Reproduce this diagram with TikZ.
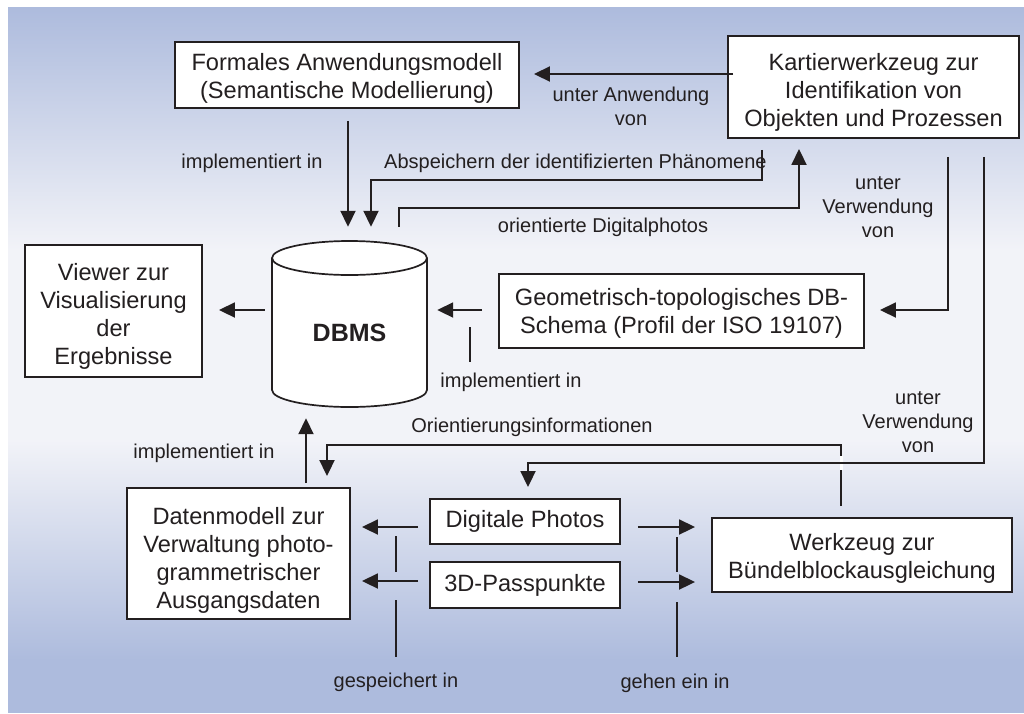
\documentclass[tikz,border=0pt]{standalone}
\usepackage{fontspec}
\setmainfont{Liberation Sans}
\usetikzlibrary{arrows.meta}
\definecolor{bgblue}{HTML}{ADBBDD}
\definecolor{bgpale}{HTML}{F2F3F8}
\definecolor{ink}{HTML}{231F20}
% invisible strut that lowers a multi-line box text
\newcommand\padtop[1]{\rule{0pt}{#1}}

\begin{document}
\begin{tikzpicture}[x=1pt,y=-1pt,
  box/.style={draw=ink, line width=1.9pt, fill=white, align=center, inner sep=0pt,
    text=ink, font=\fontsize{23.6}{28}\selectfont},
  lbl/.style={align=center, inner sep=0pt, text=ink, font=\fontsize{20}{24}\selectfont},
  conn/.style={draw=ink, line width=1.9pt},
  arr/.style={conn, -{Triangle[length=16pt,width=15pt]}},
  tick/.style={draw=ink, line width=1.3pt}]

% page and shaded backdrop
\useasboundingbox (0,0) rectangle (1024,713);
\fill[white] (0,0) rectangle (1024,713);
\shade[top color=bgblue, bottom color=bgpale] (8,7) rectangle (1024,250);
\fill[bgpale] (8,249.5) rectangle (1024,440.5);
\shade[top color=bgpale, bottom color=bgblue] (8,440) rectangle (1024,660);
\fill[bgblue] (8,659.5) rectangle (1024,713);

% boxes
\node[box, minimum width=344pt, minimum height=66pt] (formales) at (347,75)
  {\padtop{23.3pt}Formales Anwendungsmodell\\(Semantische Modellierung)};
\node[box, minimum width=291pt, minimum height=102pt] (kartier) at (873.5,87)
  {\padtop{27.3pt}Kartierwerkzeug zur\\Identifikation von\\Objekten und Prozessen};
\node[box, minimum width=177pt, minimum height=132pt] (viewer) at (113.5,311)
  {\padtop{27.3pt}Viewer zur\\Visualisierung\\der\\Ergebnisse};
\node[box, minimum width=365pt, minimum height=74pt] (geom) at (681.5,311)
  {\padtop{22.3pt}Geometrisch-topologisches DB-\\Schema (Profil der ISO 19107)};
\node[box, minimum width=223pt, minimum height=131pt] (daten) at (238.5,553.5)
  {\padtop{31pt}Datenmodell zur\\Verwaltung photo-\\grammetrischer\\Ausgangsdaten};
\node[box, minimum width=190pt, minimum height=45pt] (digital) at (525,521.5) {Digitale Photos};
\node[box, minimum width=190pt, minimum height=46pt] (pass) at (525,585) {3D-Passpunkte};
\node[box, minimum width=300pt, minimum height=74pt] (werkzeug) at (862,555)
  {\padtop{23.3pt}Werkzeug zur\\Bündelblockausgleichung};

% database cylinder
\fill[white] (272,258) -- (272,390) arc[start angle=180,end angle=360,x radius=77.5pt,y radius=17pt]
  -- (427,258) -- cycle;
\filldraw[fill=white, draw=ink, line width=1.7pt] (349.5,258) ellipse [x radius=77.5pt, y radius=17pt];
\draw[ink, line width=1.7pt] (272,258) -- (272,390)
  arc[start angle=180,end angle=360,x radius=77.5pt,y radius=17pt] -- (427,258);
\node[inner sep=0pt, minimum width=155pt, minimum height=166pt, text=ink,
  text height=52pt, text depth=18pt,
  font=\fontsize{25}{30}\selectfont\bfseries] (dbms) at (349.5,324) {DBMS};

% connectors
\draw[arr, shorten <=-6pt, shorten >=14pt] (kartier.west |- 0,74) -- (formales.east |- 0,74);
\draw[arr, shorten <=12pt, shorten >=14pt] (formales.south -| 348,0) -- (dbms.north -| 348,0);
\draw[arr, shorten <=11pt, shorten >=14pt] (kartier.south -| 762,0) -- (762,180) -- (371,180)
  -- (dbms.north -| 371,0);
\draw[arr, shorten <=14pt, shorten >=10pt] (dbms.north -| 399,0) -- (399,208) -- (799,208)
  -- (kartier.south -| 799,0);
\draw[arr, shorten <=18pt, shorten >=15pt] (kartier.south -| 948,0) -- (948,310) -- (geom.east |- 0,310);
\draw[arr, shorten <=7pt, shorten >=16pt] (dbms.west |- 0,310) -- (viewer.east |- 0,310);
\draw[arr, shorten <=16pt, shorten >=10pt] (geom.west |- 0,310) -- (dbms.east |- 0,310);
\draw[tick] (470,327) -- (470,362);
\draw[arr, shorten <=4pt, shorten >=11pt] (daten.north -| 306,0) -- (dbms.south -| 306,0);
\draw[arr, shorten <=11pt, shorten >=11pt] (werkzeug.north -| 841,0) -- (841,445) -- (327,445)
  -- (daten.north -| 327,0);
% gap where the two lines cross
\fill[white] (839.5,456) rectangle (842.5,470);
\draw[arr, shorten <=18pt, shorten >=11pt] (kartier.south -| 984,0) -- (984,463) -- (528,463)
  -- (digital.north -| 528,0);

\draw[arr, shorten <=11pt, shorten >=11pt] (digital.west |- 0,527) -- (daten.east |- 0,527);
\draw[arr, shorten <=11pt, shorten >=11pt] (pass.west |- 0,581) -- (daten.east |- 0,581);
\draw[tick] (396,536) -- (396,572);
\draw[tick] (396,600) -- (396,657);
\draw[arr, shorten <=17pt, shorten >=16pt] (digital.east |- 0,527) -- (werkzeug.west |- 0,527);
\draw[arr, shorten <=17pt, shorten >=16pt] (pass.east |- 0,582) -- (werkzeug.west |- 0,582);
\draw[tick] (677,537) -- (677,572);
\draw[tick] (677,602) -- (677,657);

% connector labels
\node[lbl] (l1) at (631,106) {unter Anwendung\\von};
\node[lbl] (l2) at (252,163) {implementiert in};
\node[lbl, anchor=west] (l3) at (384,163) {Abspeichern der identifizierten Phänomene};
\node[lbl] (l4) at (603,227) {orientierte Digitalphotos};
\node[lbl] (l5) at (878,207) {unter\\Verwendung\\von};
\node[lbl] (l6) at (511,382) {implementiert in};
\node[lbl] (l7) at (918,422) {unter\\Verwendung\\von};
\node[lbl] (l8) at (532,427) {Orientierungsinformationen};
\node[lbl] (l9) at (204,453) {implementiert in};
\node[lbl] (l10) at (396,682) {gespeichert in};
\node[lbl] (l11) at (675,683) {gehen ein in};
\end{tikzpicture}
\end{document}
